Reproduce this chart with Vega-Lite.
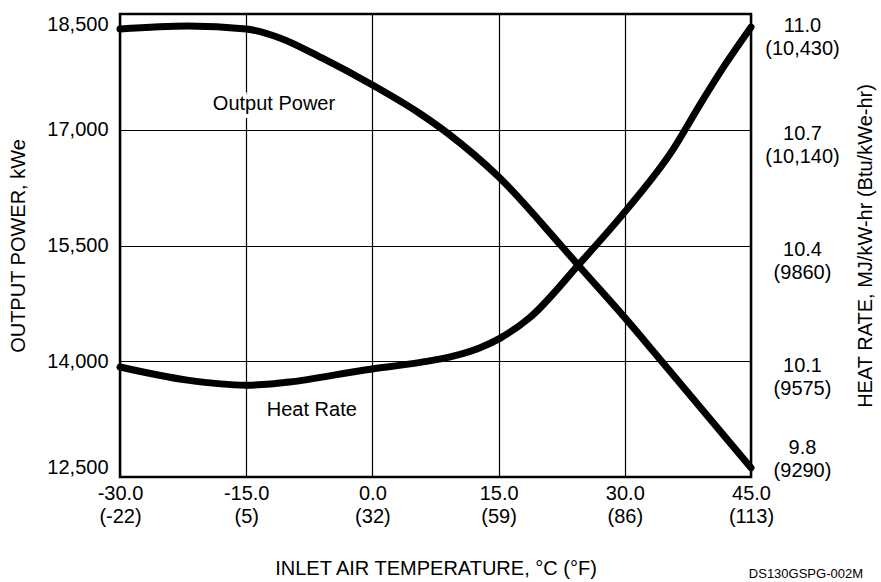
{
  "$schema": "https://vega.github.io/schema/vega-lite/v6.json",
  "width": 631,
  "height": 463,
  "autosize": "none",
  "padding": {"left": 120, "top": 14, "right": 130, "bottom": 105},
  "background": "white",
  "title": {"text": "DS130GSPG-002M", "orient": "bottom", "anchor": "end", "frame": "group", "dx": 112, "offset": -10, "fontSize": 13, "fontWeight": "normal", "font": "Liberation Sans", "color": "black"},
  "config": {
    "font": "Liberation Sans",
    "view": {"stroke": "black", "strokeWidth": 2.5},
    "axis": {
      "labelFont": "Liberation Sans", "titleFont": "Liberation Sans",
      "labelFontSize": 20, "titleFontSize": 20, "titleFontWeight": "normal",
      "labelColor": "black", "titleColor": "black",
      "domain": false, "ticks": false,
      "gridColor": "black", "gridWidth": 1.2, "gridOpacity": 1
    }
  },
  "layer": [
    {
      "layer": [
        {
          "data": {"values": [
            {"temp": -30, "power": 18306},
            {"temp": -22, "power": 18345},
            {"temp": -15, "power": 18306},
            {"temp": -11, "power": 18190},
            {"temp": -6, "power": 17930},
            {"temp": 0, "power": 17580},
            {"temp": 5.5, "power": 17220},
            {"temp": 9, "power": 16950},
            {"temp": 15, "power": 16390},
            {"temp": 22.5, "power": 15490},
            {"temp": 25, "power": 15180},
            {"temp": 30, "power": 14565},
            {"temp": 34, "power": 14050},
            {"temp": 45, "power": 12620}
          ]},
          "mark": {"type": "line", "color": "black", "strokeWidth": 7, "interpolate": "monotone", "strokeCap": "round"},
          "encoding": {
            "x": {"field": "temp", "type": "quantitative",
              "scale": {"domain": [-30, 45], "nice": false, "zero": false},
              "axis": {"values": [-30, -15, 0, 15, 30, 45],
                "labelExpr": "datum.value == -30 ? ['-30.0','(-22)'] : datum.value == -15 ? ['-15.0','(5)'] : datum.value == 0 ? ['0.0','(32)'] : datum.value == 15 ? ['15.0','(59)'] : datum.value == 30 ? ['30.0','(86)'] : ['45.0','(113)']",
                "labelFlush": false, "labelLineHeight": 23, "labelPadding": 6, "labelBaseline": "top",
                "title": "INLET AIR TEMPERATURE, °C (°F)", "titlePadding": 32}},
            "y": {"field": "power", "type": "quantitative",
              "scale": {"domain": [12500, 18500], "nice": false, "zero": false},
              "axis": {"values": [12500, 14000, 15500, 17000, 18500],
                "labelExpr": "format(datum.value, ',')",
                "labelFlush": true, "labelPadding": 12,
                "title": "OUTPUT POWER, kWe", "titlePadding": 18}}
          }
        },
        {
          "data": {"values": [
            {"temp": -11.7, "power": 17334, "label": "Output Power"},
            {"temp": -7.2, "power": 13368, "label": "Heat Rate"}
          ]},
          "mark": {"type": "text", "fontSize": 20, "font": "Liberation Sans", "color": "white", "stroke": "white", "strokeWidth": 8},
          "encoding": {
            "x": {"field": "temp", "type": "quantitative"},
            "y": {"field": "power", "type": "quantitative"},
            "text": {"field": "label"}
          }
        },
        {
          "data": {"values": [
            {"temp": -11.7, "power": 17334, "label": "Output Power"},
            {"temp": -7.2, "power": 13368, "label": "Heat Rate"}
          ]},
          "mark": {"type": "text", "fontSize": 20, "font": "Liberation Sans", "color": "black"},
          "encoding": {
            "x": {"field": "temp", "type": "quantitative"},
            "y": {"field": "power", "type": "quantitative"},
            "text": {"field": "label"}
          }
        }
      ]
    },
    {
      "data": {"values": [
        {"temp": -30, "heatrate": 10.085},
        {"temp": -22, "heatrate": 10.051},
        {"temp": -15, "heatrate": 10.038},
        {"temp": 0, "heatrate": 10.080},
        {"temp": 5.7, "heatrate": 10.097},
        {"temp": 9.6, "heatrate": 10.113},
        {"temp": 12.8, "heatrate": 10.135},
        {"temp": 15.2, "heatrate": 10.160},
        {"temp": 18.7, "heatrate": 10.213},
        {"temp": 24.7, "heatrate": 10.355},
        {"temp": 30.3, "heatrate": 10.495},
        {"temp": 35.7, "heatrate": 10.648},
        {"temp": 38.9, "heatrate": 10.764},
        {"temp": 41.9, "heatrate": 10.868},
        {"temp": 45, "heatrate": 10.966}
      ]},
      "mark": {"type": "line", "color": "black", "strokeWidth": 7, "interpolate": "monotone", "strokeCap": "round"},
      "encoding": {
        "x": {"field": "temp", "type": "quantitative"},
        "y": {"field": "heatrate", "type": "quantitative",
          "scale": {"domain": [9.8, 11.0], "nice": false, "zero": false},
          "axis": {"orient": "right", "values": [9.8, 10.1, 10.4, 10.7, 11.0], "grid": false,
            "labelExpr": "datum.value < 9.9 ? ['9.8','(9290)'] : datum.value < 10.2 ? ['10.1','(9575)'] : datum.value < 10.5 ? ['10.4','(9860)'] : datum.value < 10.8 ? ['10.7','(10,140)'] : ['11.0','(10,430)']",
            "labelAlign": "center", "labelPadding": 51, "labelFlush": true, "labelLineHeight": 23,
            "labelOffset": {"condition": [{"test": "datum.value < 9.9", "value": -20}, {"test": "datum.value > 10.9", "value": 1}], "value": 4},
            "title": "HEAT RATE, MJ/kW-hr (Btu/kWe-hr)", "titleAngle": 270, "titlePadding": 36}}
      }
    }
  ],
  "resolve": {"scale": {"y": "independent"}, "axis": {"y": "independent"}}
}
